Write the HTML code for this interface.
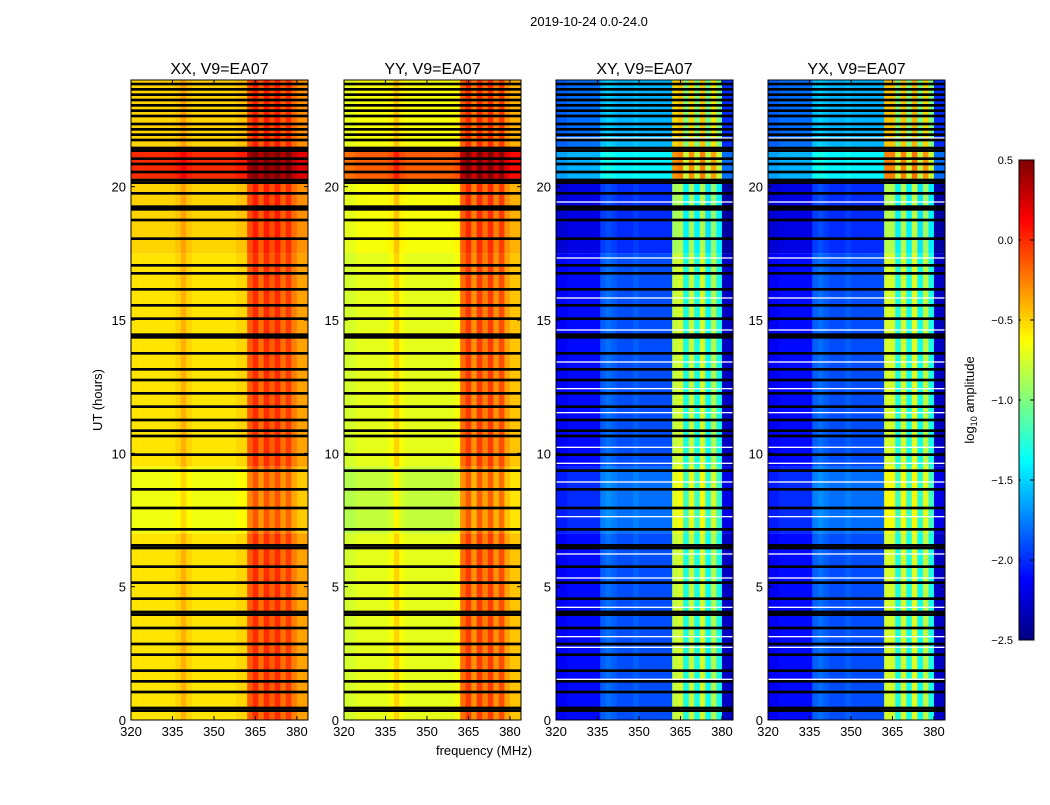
<!DOCTYPE html>
<html><head><meta charset="utf-8"><style>
body{margin:0;background:#fff;font-family:"Liberation Sans",sans-serif}
svg text{font-family:"Liberation Sans",sans-serif}
</style></head><body>
<svg id="fig" width="1050" height="800" xmlns="http://www.w3.org/2000/svg">
<rect width="1050" height="800" fill="#fff"/>
<text x="589" y="26" font-size="13" text-anchor="middle">2019-10-24 0.0-24.0</text>
<text transform="translate(102,400) rotate(-90)" font-size="13" text-anchor="middle">UT (hours)</text>
<text x="484" y="755" font-size="13" text-anchor="middle">frequency (MHz)</text>
<text transform="translate(974,400) rotate(-90)" font-size="13" text-anchor="middle">log<tspan font-size="9" dy="3">10</tspan><tspan dy="-3"> amplitude</tspan></text>
<g id="panels"></g>
<g id="cbar"></g>
</svg>
<script>
// ---- data ----
const panelTitles = ["XX, V9=EA07","YY, V9=EA07","XY, V9=EA07","YX, V9=EA07"];
const xTicks = [320,335,350,365,380];
const yTicks = [0,5,10,15,20];
const cbTicks = [0.5,0.0,-0.5,-1.0,-1.5,-2.0,-2.5];
const cbLabels = ["0.5","0.0","\u22120.5","\u22121.0","\u22121.5","\u22122.0","\u22122.5"];
// channel profiles (log10 amplitude), 32 channels x 2 MHz from 320 MHz
const chanXX = [-0.55,-0.55,-0.55,-0.55,-0.55,-0.55,-0.55,-0.55,-0.5,-0.4,-0.5,-0.55,-0.55,-0.55,-0.55,-0.55,-0.55,-0.55,-0.55,-0.5,-0.5,-0.15,0.0,-0.2,0.0,-0.15,0.0,-0.2,-0.05,-0.25,-0.35,-0.35];
const chanYY = [-0.75,-0.75,-0.7,-0.7,-0.7,-0.7,-0.7,-0.7,-0.65,-0.5,-0.65,-0.7,-0.7,-0.7,-0.7,-0.7,-0.7,-0.7,-0.7,-0.7,-0.65,-0.2,-0.05,-0.3,-0.05,-0.25,-0.05,-0.3,-0.1,-0.35,-0.45,-0.45];
const chanXY = [-2.15,-2.15,-2.1,-2.1,-2.1,-2.1,-2.1,-2.1,-1.85,-1.8,-1.85,-1.9,-1.9,-1.9,-1.85,-1.9,-1.9,-1.9,-1.9,-1.9,-1.9,-0.8,-0.75,-1.3,-0.8,-1.3,-0.75,-1.35,-0.85,-1.3,-2.3,-2.3];
const chanYX = [-2.15,-2.15,-2.1,-2.1,-2.1,-2.1,-2.1,-2.1,-1.85,-1.8,-1.85,-1.9,-1.9,-1.9,-1.85,-1.9,-1.9,-1.9,-1.9,-1.9,-1.9,-0.75,-0.75,-1.3,-0.75,-1.3,-0.7,-1.35,-0.8,-1.3,-2.3,-2.3];
// time segments (hours) and per-panel offsets
const segStart = [0,7,9.5,17.5,20.3,21.5];
const segEnd   = [7,9.5,17.5,20.3,21.5,24];
const offXX = [0,-0.12,0,0.05,0.55,0.05];
const offYY = [0,-0.1,0,0.05,0.55,0.05];
const offXY = [0,0.1,0,-0.1,0.5,0.3];
const offYX = [0,0.1,0,-0.1,0.5,0.3];
// flagged (black) times, hours
const flagHours = [0.3,0.4,1.0,1.4,1.8,2.4,2.8,3.4,3.9,4.0,4.5,5.1,5.7,6.4,6.5,7.1,7.9,8.6,9.3,9.9,10.6,10.8,11.2,11.7,12.2,12.7,13.1,13.7,14.3,14.4,15.0,15.5,16.1,16.7,17.0,18.0,18.7,19.1,19.2,19.7,20.1,20.2,20.5,20.8,21.0,21.3,21.4,21.7,21.9,22.1,22.3,22.6,22.8,23.0,23.2,23.4,23.6,23.8];
// white (missing) times in cross pols
const whiteHours = [1.5,2.7,3.1,4.2,5.3,6.2,7.6,8.9,9.6,10.2,11.5,12.4,13.4,14.6,15.8,17.3,19.4,21.8];

const panelX = [131,344,556,768], PW = 177, PT = 80, PB = 720;
const fx = f => (f-320)/64*PW;
const ty = h => PB - h/24*(PB-PT);
function jet(v){
  let t = (v+2.5)/3; t=Math.max(0,Math.min(1,t));
  const r = Math.max(0,Math.min(1,1.5-Math.abs(4*t-3)));
  const g = Math.max(0,Math.min(1,1.5-Math.abs(4*t-2)));
  const b = Math.max(0,Math.min(1,1.5-Math.abs(4*t-1)));
  return `rgb(${Math.round(r*255)},${Math.round(g*255)},${Math.round(b*255)})`;
}
const NS="http://www.w3.org/2000/svg";
function mk(tag,attrs,parent){const e=document.createElementNS(NS,tag);for(const k in attrs)e.setAttribute(k,attrs[k]);parent.appendChild(e);return e;}
const chans=[chanXX,chanYY,chanXY,chanYX], offs=[offXX,offYY,offXY,offYX];
const gP=document.getElementById('panels');
const cellW = fx(322)-fx(320);
panelX.forEach((x0,p)=>{
  const g=mk('g',{transform:`translate(${x0},0)`},gP);
  
  
  const ch=chans[p], of=offs[p];
  for(let s=0;s<segStart.length;s++){
    for(let c=0;c<ch.length;c++){
      const r=mk('rect',{x:fx(320+2*c).toFixed(2),y:ty(segEnd[s]).toFixed(2),width:(cellW+0.4).toFixed(2),height:(ty(segStart[s])-ty(segEnd[s])).toFixed(2),fill:jet(ch[c]+of[s])},g);
      
      
    }
  }
  if(p>=2){whiteHours.forEach(h=>{
    const r=mk('rect',{x:0,y:ty(h+0.05),width:PW,height:1.3,fill:'#fff'},g);
    
    
  });}
  flagHours.forEach(h=>{
    const r=mk('rect',{x:0,y:ty(h+0.1).toFixed(2),width:PW,height:(ty(0)-ty(0.1)).toFixed(2),fill:'#000'},g);
    
    
  });
  const fr=mk('rect',{x:0,y:PT,width:PW,height:PB-PT,fill:'none',stroke:'#000','stroke-width':1},g);
  
  
  const t=mk('text',{x:PW/2,y:PT-6,'font-size':16,'text-anchor':'middle'},g);t.textContent=panelTitles[p];
  
  
  xTicks.forEach(v=>{
    const X=fx(v);
    mk('line',{x1:X,x2:X,y1:PB,y2:PB-4,stroke:'#000'},g);
    mk('line',{x1:X,x2:X,y1:PT,y2:PT+4,stroke:'#000'},g);
    const l=mk('text',{x:X,y:PB+16,'font-size':13,'text-anchor':'middle'},g);l.textContent=v;
    
    
  });
  yTicks.forEach(v=>{
    const Y=ty(v);
    mk('line',{x1:0,x2:4,y1:Y,y2:Y,stroke:'#000'},g);
    mk('line',{x1:PW,x2:PW-4,y1:Y,y2:Y,stroke:'#000'},g);
    const l=mk('text',{x:-5,y:Y+5,'font-size':13,'text-anchor':'end'},g);l.textContent=v;
    
    
  });
});
// colorbar
const gC=document.getElementById('cbar');
const CX=1019,CW=15,CT=160,CB=640;
const cy=v=>CB-(v+2.5)/3*(CB-CT);
for(let i=0;i<120;i++){
  const v0=-2.5+3*i/120, v1=-2.5+3*(i+1)/120;
  const r=mk('rect',{x:CX,y:cy(v1).toFixed(2),width:CW,height:(cy(v0)-cy(v1)+0.5).toFixed(2),fill:jet((v0+v1)/2)},gC);
  
  
}
const cf=mk('rect',{x:CX,y:CT,width:CW,height:CB-CT,fill:'none',stroke:'#000'},gC);


cbTicks.forEach((v,i)=>{
  const Y=cy(v);
  mk('line',{x1:CX,x2:CX+4,y1:Y,y2:Y,stroke:'#000','stroke-dasharray':'2,2'},gC);
  mk('line',{x1:CX+CW,x2:CX+CW-4,y1:Y,y2:Y,stroke:'#000'},gC);
  const l=mk('text',{x:CX-6,y:Y+4,'font-size':11,'text-anchor':'end'},gC);l.textContent=cbLabels[i];
  
  
});
</script>
</body></html>
